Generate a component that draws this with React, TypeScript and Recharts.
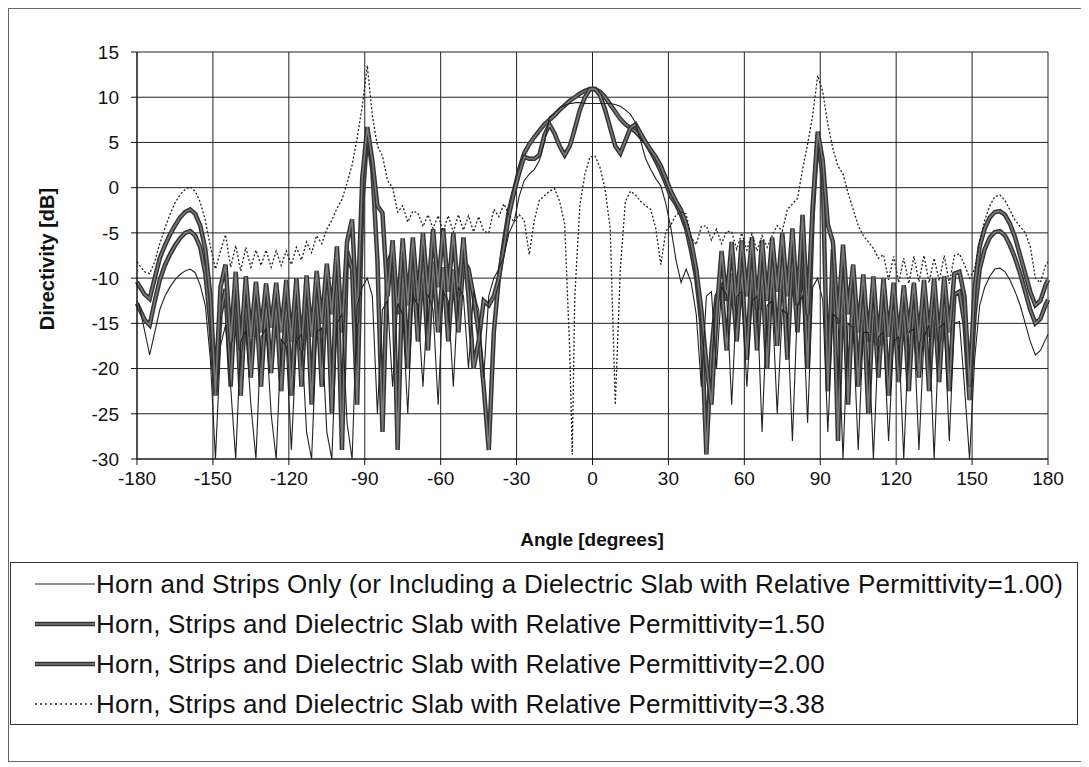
import React from 'react';
import { LineChart, Line, XAxis, YAxis, CartesianGrid } from 'recharts';

const FONT = '"Liberation Sans", Arial, sans-serif';

// angle grid (degrees), shared by every series
const angles = [
  -180,
  -179, -177, -175, -173, -171,
  -169, -167, -165, -163, -161,
  -159, -157, -155, -153, -151,
  -149, -147, -145, -143, -141,
  -139, -137, -135, -133, -131,
  -129, -127, -125, -123, -121,
  -119, -117, -115, -113, -111,
  -109, -107, -105, -103, -101,
  -99, -97, -95, -93, -91,
  -89, -87, -85, -83, -81,
  -79, -77, -75, -73, -71,
  -69, -67, -65, -63, -61,
  -59, -57, -55, -53, -51,
  -49, -47, -45, -43, -41,
  -39, -37, -35, -33, -31,
  -29, -27, -25, -23, -21,
  -19, -17, -15, -13, -11,
  -9, -8, -7, -5, -3, -1,
  1, 3, 5, 7, 9,
  11, 13, 15, 17, 19,
  21, 23, 25, 27, 29,
  31, 33, 35, 37, 39,
  41, 43, 45, 47, 49,
  51, 53, 55, 57, 59,
  61, 63, 65, 67, 69,
  71, 73, 75, 77, 79,
  81, 83, 85, 87, 89,
  91, 93, 95, 97, 99,
  101, 103, 105, 107, 109,
  111, 113, 115, 117, 119,
  121, 123, 125, 127, 129,
  131, 133, 135, 137, 139,
  141, 143, 145, 147, 149,
  151, 153, 155, 157, 159,
  161, 163, 165, 167, 169,
  171, 173, 175, 177, 179,
  180,
];

// Horn and strips only (er = 1.00)
const horn100 = [
  -12.5,
  -13.2, -15.8, -18.5, -16.0, -13.5,
  -12.0, -11.0, -10.2, -9.6, -9.2,
  -9.0, -9.4, -10.8, -13.0, -19.0,
  -30.0, -17.5, -15.2, -22.0, -30.0,
  -17.0, -15.8, -24.0, -30.0, -16.5,
  -15.6, -25.0, -30.0, -16.8, -17.5,
  -29.0, -17.0, -16.2, -27.0, -30.0,
  -16.0, -15.5, -27.0, -30.0, -15.0,
  -14.0, -26.0, -30.0, -13.0, -11.0,
  -10.0, -12.0, -25.0, -13.5, -12.5,
  -22.0, -12.8, -14.0, -25.0, -12.0,
  -13.0, -22.0, -11.8, -13.5, -24.0,
  -11.5, -12.5, -22.0, -11.0, -12.0,
  -20.0, -11.5, -13.5, -21.0, -12.0,
  -10.0, -9.0, -7.6, -5.0, -3.8,
  -1.0, 0.8, 1.5, 2.0, 3.0,
  5.0, 7.8, 8.3, 8.8, 9.1,
  9.3, 9.3, 9.4, 9.4, 9.3, 9.3,
  9.3, 9.3, 9.3, 9.3, 9.2,
  9.0, 8.6, 8.1, 7.2, 5.2,
  3.2, 2.0, 1.0, 0.2, -1.8,
  -4.5, -8.0, -10.5, -9.0, -10.5,
  -14.0, -22.0, -12.0, -11.5, -20.0,
  -11.0, -11.8, -24.0, -12.0, -11.5,
  -22.0, -12.5, -12.0, -27.0, -13.0,
  -12.5, -25.0, -13.5, -14.0, -28.0,
  -13.0, -12.0, -26.0, -11.0, -10.0,
  -12.5, -27.0, -14.0, -14.5, -30.0,
  -15.0, -15.5, -29.0, -16.0, -16.0,
  -30.0, -16.5, -16.0, -28.0, -17.0,
  -16.5, -30.0, -16.0, -15.6, -29.0,
  -16.5, -15.2, -30.0, -15.5, -15.0,
  -28.0, -15.0, -14.8, -22.0, -30.0,
  -19.0, -13.0, -11.0, -9.8, -9.0,
  -8.9, -9.3, -10.2, -11.5, -13.0,
  -15.0, -17.0, -18.5, -18.0, -16.8,
  -16.2,
];

// dielectric slab er = 1.50
const slab150 = [
  -12.8,
  -13.4, -14.6, -15.2, -12.6, -10.2,
  -8.6, -7.4, -6.4, -5.6, -5.0,
  -4.8, -5.3, -6.6, -9.5, -15.0,
  -23.0, -14.0, -11.2, -22.0, -11.5,
  -23.0, -12.0, -21.0, -12.5, -22.0,
  -12.8, -20.5, -12.5, -22.5, -12.2,
  -23.0, -12.0, -22.0, -11.5, -24.0,
  -11.0, -22.0, -10.0, -25.0, -8.0,
  -29.0, -7.0, -9.0, -24.0, -2.0,
  6.0, 2.0, -8.0, -27.0, -8.5,
  -7.0, -29.0, -8.5, -20.0, -8.0,
  -17.0, -8.5, -18.0, -8.2, -16.0,
  -8.8, -17.0, -9.0, -16.0, -8.0,
  -9.0, -12.0, -16.0, -22.0, -29.0,
  -16.0, -10.0, -6.0, -2.5, -0.3,
  2.0, 3.8, 4.8, 5.6, 6.3,
  7.0, 7.5, 8.0, 8.6, 9.1,
  9.6, 9.8, 10.0, 10.4, 10.7, 10.9,
  10.9, 10.6, 10.0, 9.2, 8.4,
  7.6, 7.0, 6.6, 6.2, 5.6,
  5.0, 4.0, 3.0, 1.8, 0.5,
  -1.0, -1.8, -3.0, -4.5, -7.0,
  -10.0, -15.0, -29.5, -18.0, -12.0,
  -11.0, -18.0, -9.5, -17.0, -9.0,
  -19.0, -8.5, -18.0, -9.0, -20.0,
  -8.5, -17.5, -8.0, -19.0, -7.5,
  -16.0, -6.0, -20.0, -3.0, 5.8,
  1.0, -22.5, -6.8, -28.0, -9.0,
  -24.0, -11.0, -22.0, -12.0, -25.0,
  -12.5, -21.0, -12.8, -23.0, -12.5,
  -21.5, -12.8, -22.5, -12.5, -21.0,
  -12.6, -22.5, -12.2, -21.5, -12.0,
  -22.5, -11.8, -11.5, -15.0, -23.5,
  -14.0, -9.0, -6.8, -5.5, -4.9,
  -4.8, -5.3, -6.4, -7.8, -9.5,
  -11.5, -13.5, -15.0, -14.5, -13.0,
  -12.4,
];

// dielectric slab er = 2.00
const slab200 = [
  -10.4,
  -10.9, -11.8, -12.3, -10.0, -7.8,
  -6.4, -5.2, -4.2, -3.3, -2.7,
  -2.4, -2.9, -4.2, -6.8, -12.0,
  -22.5, -11.0, -8.5, -17.0, -9.3,
  -18.0, -9.8, -16.5, -10.4, -16.0,
  -10.6, -15.5, -10.5, -16.0, -10.2,
  -17.0, -10.0, -18.0, -9.7, -16.5,
  -9.2, -15.0, -8.4, -14.0, -6.5,
  -16.0, -6.0, -3.5, -15.0, 1.0,
  6.7, 3.0, -2.0, -2.8, -12.0,
  -5.8, -14.0, -5.6, -13.0, -5.5,
  -12.5, -5.0, -12.0, -4.6, -11.0,
  -4.5, -11.5, -5.0, -12.0, -5.5,
  -12.0, -20.0, -17.0, -12.5, -13.0,
  -12.0, -10.0, -6.5, -3.0, -0.5,
  1.6, 3.4, 3.2, 3.2, 3.6,
  5.8, 7.0, 6.0, 4.6, 3.6,
  4.6, 5.5, 6.5, 8.6, 10.0, 10.9,
  10.9, 10.2, 8.6, 6.6, 4.6,
  3.8, 5.2, 6.6, 7.0, 6.0,
  5.0, 4.2, 3.4, 2.4, 1.0,
  -0.4, -1.5, -2.5, -4.0, -6.0,
  -9.0, -13.5, -19.5, -24.0, -14.0,
  -7.0, -12.5, -6.0, -13.0, -5.8,
  -12.0, -5.5, -13.5, -5.8, -12.5,
  -5.5, -11.5, -5.0, -12.0, -4.5,
  -13.0, -3.0, -14.0, -2.0, 6.2,
  3.0, -4.1, -6.0, -15.0, -6.3,
  -14.0, -8.5, -16.0, -9.6, -17.0,
  -9.8, -17.5, -10.0, -16.5, -10.5,
  -17.0, -10.8, -16.0, -10.5, -17.0,
  -10.2, -16.5, -10.0, -17.0, -9.8,
  -16.0, -9.5, -9.3, -12.0, -22.0,
  -11.0, -6.5, -4.5, -3.3, -2.7,
  -2.6, -3.0, -4.0, -5.5, -7.5,
  -9.5, -11.5, -13.0, -12.5, -10.8,
  -10.2,
];

// dielectric slab er = 3.38
const slab338 = [
  -8.2,
  -8.6, -9.3, -9.5, -8.2, -6.2,
  -4.5, -3.0, -1.7, -0.8, -0.2,
  0.1, -0.4, -1.6, -3.6, -6.5,
  -9.0, -7.0, -5.2, -8.8, -6.4,
  -9.2, -6.6, -8.8, -6.9, -8.6,
  -6.9, -8.8, -7.0, -8.6, -7.0,
  -8.5, -6.6, -8.0, -6.0, -7.2,
  -5.3, -6.2, -4.6, -3.6, -2.3,
  -1.3, 0.5, 2.5, 5.5, 9.0,
  13.5, 8.0, 4.6, 3.5, 0.8,
  0.0, -2.7, -2.0, -3.8, -2.6,
  -2.8, -4.3, -3.0, -4.5, -3.1,
  -4.8, -3.1, -4.9, -3.0, -4.7,
  -3.1, -4.9, -3.2, -4.8, -5.0,
  -2.4, -3.2, -1.8, -3.0, -3.8,
  -3.0, -3.6, -7.4, -3.6, -1.4,
  -0.9, -0.4, -0.1, -1.5, -4.0,
  -18.0, -29.5, -12.0, -2.0, 1.5, 3.4,
  3.5, 2.2, -0.2, -4.5, -24.0,
  -9.0, -1.5, -0.4, -0.8, -1.5,
  -2.0, -2.4, -4.5, -8.5, -4.8,
  -4.1, -3.0, -2.7, -2.9, -5.5,
  -6.3, -4.3, -4.2, -5.8, -4.6,
  -6.2, -4.8, -4.9, -6.8, -5.0,
  -6.9, -5.1, -7.0, -5.3, -6.6,
  -5.3, -4.2, -4.8, -2.4, -1.8,
  -1.2, 2.0, 4.8, 8.0, 12.4,
  10.6, 7.0, 4.3, 2.4, 1.5,
  -0.6, -2.4, -4.2, -5.3, -6.0,
  -6.7, -7.8, -7.4, -10.2, -7.6,
  -10.5, -7.8, -10.6, -7.6, -10.4,
  -7.5, -10.5, -7.8, -10.3, -7.5,
  -10.6, -7.5, -7.3, -8.5, -10.0,
  -9.0, -6.0, -3.6, -2.0, -1.0,
  -0.8, -1.4, -2.5, -3.6, -4.3,
  -5.0, -6.5, -10.0, -10.5, -8.6,
  -8.2,
];

const xTicks = [-180, -150, -120, -90, -60, -30, 0, 30, 60, 90, 120, 150, 180];
const yTicks = [-30, -25, -20, -15, -10, -5, 0, 5, 10, 15];

const legendItems = [
  { label: 'Horn and Strips Only (or Including a Dielectric Slab with Relative Permittivity=1.00)', kind: 'thin' },
  { label: 'Horn, Strips and Dielectric Slab with Relative Permittivity=1.50', kind: 'thick' },
  { label: 'Horn, Strips and Dielectric Slab with Relative Permittivity=2.00', kind: 'thick' },
  { label: 'Horn, Strips and Dielectric Slab with Relative Permittivity=3.38', kind: 'dotted' },
];

function LegendSample({ kind }: { kind: string }) {
  return (
    <svg width={60} height={14} style={{ display: 'block', flex: 'none' }}>
      {kind === 'thin' && <line x1={0} y1={7} x2={60} y2={7} stroke="#222" strokeWidth={1.2} />}
      {kind === 'thick' && (
        <>
          <line x1={0} y1={7} x2={60} y2={7} stroke="#333" strokeWidth={4.5} />
          <line x1={0} y1={7} x2={60} y2={7} stroke="#7a7a7a" strokeWidth={1.6} />
        </>
      )}
      {kind === 'dotted' && (
        <line x1={0} y1={7} x2={60} y2={7} stroke="#222" strokeWidth={1.3} strokeDasharray="2 3" />
      )}
    </svg>
  );
}

export default function App() {
  const data = angles.map((angle, i) => ({
    angle,
    e100: horn100[i],
    e150: slab150[i],
    e200: slab200[i],
    e338: slab338[i],
  }));

  const tickStyle = { fill: '#111', fontSize: 19, fontFamily: FONT };

  return (
    <div
      style={{
        position: 'relative',
        width: 1077,
        height: 752,
        border: '1px solid #666',
        background: '#fff',
        fontFamily: FONT,
        color: '#111',
      }}
    >
      <LineChart width={1077} height={490} data={data} margin={{ top: 43, right: 38, bottom: 0, left: 0 }}>
        <CartesianGrid stroke="#222" strokeWidth={1} />
        <XAxis
          type="number"
          dataKey="angle"
          domain={[-180, 180]}
          ticks={xTicks}
          interval={0}
          height={40}
          tickSize={6}
          tickMargin={7}
          stroke="#111"
          tick={tickStyle}
        />
        <YAxis
          type="number"
          domain={[-30, 15]}
          ticks={yTicks}
          interval={0}
          width={128}
          tickSize={6}
          tickMargin={12}
          stroke="#111"
          tick={tickStyle}
          allowDataOverflow
        />
        <Line type="linear" dataKey="e150" stroke="#333" strokeWidth={4.5} dot={false} isAnimationActive={false} />
        <Line type="linear" dataKey="e150" stroke="#7a7a7a" strokeWidth={1.6} dot={false} isAnimationActive={false} />
        <Line type="linear" dataKey="e200" stroke="#333" strokeWidth={4.5} dot={false} isAnimationActive={false} />
        <Line type="linear" dataKey="e200" stroke="#7a7a7a" strokeWidth={1.6} dot={false} isAnimationActive={false} />
        <Line type="linear" dataKey="e100" stroke="#222" strokeWidth={1.1} dot={false} isAnimationActive={false} />
        <Line
          type="linear"
          dataKey="e338"
          stroke="#222"
          strokeWidth={1.3}
          strokeDasharray="2 2"
          dot={false}
          isAnimationActive={false}
        />
      </LineChart>

      <div
        style={{
          position: 'absolute',
          left: 38,
          top: 250,
          transform: 'translate(-50%, -50%) rotate(-90deg)',
          fontWeight: 'bold',
          fontSize: 20,
          whiteSpace: 'nowrap',
        }}
      >
        Directivity [dB]
      </div>
      <div
        style={{
          position: 'absolute',
          left: 583,
          top: 531,
          transform: 'translate(-50%, -50%)',
          fontWeight: 'bold',
          fontSize: 19,
          whiteSpace: 'nowrap',
        }}
      >
        Angle [degrees]
      </div>

      <div
        style={{
          position: 'absolute',
          left: 1,
          top: 553,
          width: 1068,
          height: 163,
          border: '1px solid #333',
          boxSizing: 'border-box',
          paddingTop: 1,
        }}
      >
        {legendItems.map((item) => (
          <div key={item.label} style={{ display: 'flex', alignItems: 'center', height: 40, paddingLeft: 24 }}>
            <LegendSample kind={item.kind} />
            <span style={{ fontSize: 26, letterSpacing: 0.2, marginLeft: 1, whiteSpace: 'nowrap' }}>
              {item.label}
            </span>
          </div>
        ))}
      </div>
    </div>
  );
}
